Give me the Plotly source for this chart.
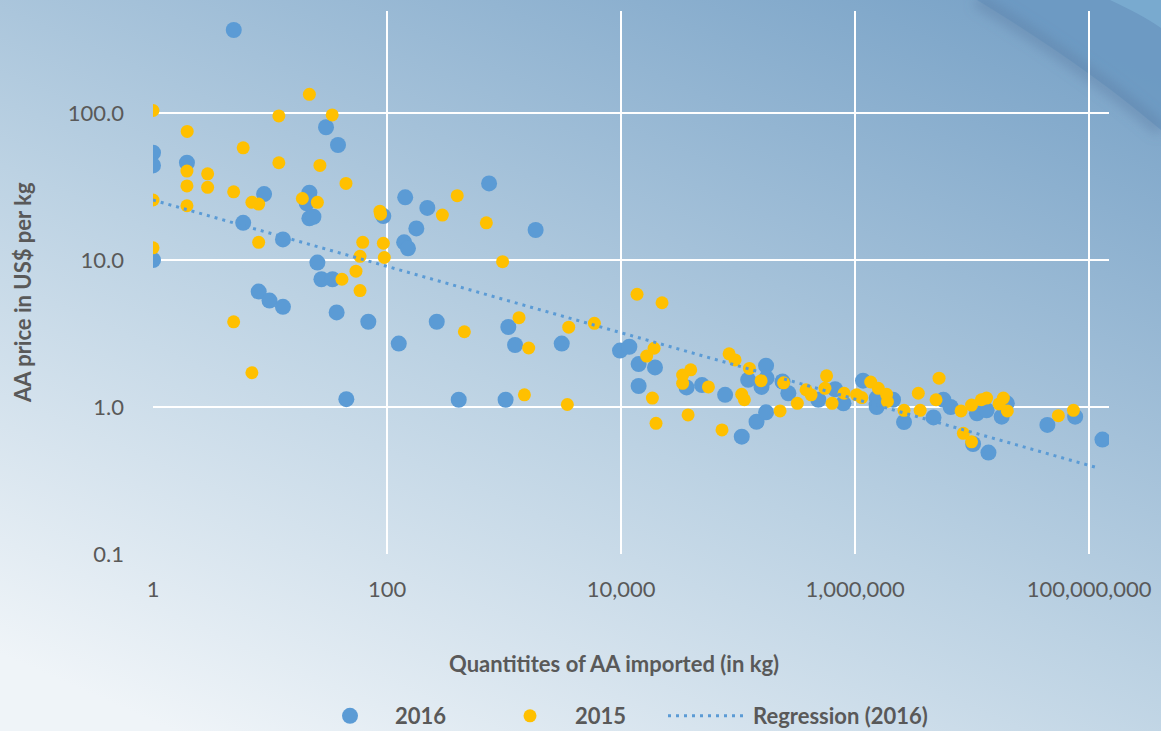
import base64
import plotly.graph_objects as go

# ---------------- data ----------------
x_2016 = [4.9, 30.1, 38.1, 1, 1, 1.95, 8.9, 21.7, 20.6, 21.7, 23.5, 5.9, 12.9,
          143, 221, 93, 178, 140, 151, 1, 25.4, 27.5, 34.2, 8.0, 9.9, 12.9, 37.1,
          69.2, 266, 126, 44.9, 745, 1862, 1088, 1242, 3112, 410, 1031,
          9800, 11770, 14130, 19500, 14130, 36300, 49200, 77500, 107500, 122000,
          143800, 173500, 173500, 158600, 175000, 240000, 269000, 485000, 675000,
          795000, 1.17e6, 1.53e6, 1.53e6, 2.11e6, 2.62e6, 4.68e6, 5.68e6, 6.56e6,
          1.02e7, 1.38e7, 1.1e7, 1.33e7, 1.79e7, 1.98e7, 4.4e7, 7.6e7, 1.3e8]
y_2016 = [367, 80, 60.6, 53.7, 44, 45.9, 28.1, 28.7, 24.3, 19.2, 19.7, 17.9, 13.8,
          26.7, 22.6, 19.9, 16.4, 13.2, 12.0, 10.0, 9.6, 7.4, 7.4, 6.1, 5.3, 4.8, 4.4,
          3.8, 3.8, 2.7, 1.13, 33.2, 16.0, 3.5, 2.64, 2.7, 1.12, 1.12,
          2.42, 2.57, 1.96, 1.86, 1.39, 1.36, 1.41, 1.21, 0.628, 1.53,
          0.794, 0.92, 1.91, 1.37, 1.57, 1.49, 1.24, 1.12, 1.32,
          1.06, 1.51, 1.15, 1.0, 1.12, 0.79, 0.85, 1.12, 1.0,
          0.56, 0.49, 0.906, 0.95, 0.86, 1.06, 0.755, 0.86, 0.60]

x_2015 = [21.7, 1, 11.9, 34, 1.96, 5.9, 11.9, 26.7, 1.95, 2.93, 44.6, 1.95, 2.93,
          4.89, 7.0, 8.0, 18.9, 25.4, 1, 1.95, 8.0, 1, 87, 88, 297, 62, 93, 54.3,
          58.8, 94.8, 41.2, 58.8, 4.89, 7.0, 398, 706, 972, 458, 1343, 1625, 3572,
          5917, 1493, 3475, 13700, 22400, 19150, 16560, 18530, 19900, 33600, 39400,
          33600, 55800, 37400, 72900, 83800, 94300, 107400, 113200, 125000, 228500,
          157400, 245000, 321000, 381000, 421000, 571000, 553000, 636000, 806000,
          1.03e6, 1.14e6, 1.36e6, 1.58e6, 1.86e6, 1.89e6, 2.62e6, 3.47e6, 3.6e6,
          4.92e6, 5.22e6, 8.05e6, 8.42e6, 9.9e6, 9.9e6, 1.2e7, 1.33e7, 1.85e7,
          1.7e7, 2.0e7, 5.46e7, 7.35e7]
y_2015 = [134, 104, 95.5, 97, 75, 58, 45.9, 44, 40.3, 38.6, 33.2, 31.9, 31.2,
          29.1, 24.7, 24.0, 26.2, 24.7, 25.6, 23.4, 13.2, 12.1, 21.5, 20.5, 20.2, 13.2,
          13.0, 8.4, 10.6, 10.4, 7.4, 6.2, 3.8, 1.71, 27.4, 17.9, 9.75, 3.25, 4.05,
          2.52, 3.49, 3.71, 1.21, 1.04, 5.85, 5.12, 2.51, 2.22, 1.15, 0.774, 1.65,
          1.79, 1.45, 1.37, 0.883, 0.698, 2.3, 2.09, 1.22, 1.12, 1.83, 0.94,
          1.51, 1.46, 1.06, 1.31, 1.21, 1.63, 1.34, 1.06, 1.24,
          1.21, 1.16, 1.48, 1.34, 1.22, 1.09, 0.95, 1.24, 0.95,
          1.12, 1.57, 0.94, 0.662, 0.58, 1.03, 1.12, 1.15, 1.15,
          1.05, 0.94, 0.873, 0.95]

reg_x = [1, 1.19e8]
reg_y = [25.6, 0.385]

x_tickvals = [1, 100, 1e4, 1e6, 1e8]
x_ticktext = ["1", "100", "10,000", "1,000,000", "100,000,000"]
y_tickvals = [0.1, 1, 10, 100]
y_ticktext = ["0.1", "1.0", "10.0", "100.0"]

# ---------------- styling ----------------
W, H = 1161, 731
ML, MR, MT, MB = 153, 52, 11, 177
PW, PH = W - ML - MR, H - MT - MB
FONT = "Lato, 'Open Sans', sans-serif"
GREY = "#595959"
BLUE = "#5b9bd5"
GOLD = "#ffc000"

svg = f'''<svg xmlns="http://www.w3.org/2000/svg" width="{W}" height="{H}" viewBox="0 0 {W} {H}" preserveAspectRatio="none">
<defs>
<linearGradient id="g" x1="0.15" y1="1" x2="0.85" y2="0">
<stop offset="0" stop-color="#eff4f8"/>
<stop offset="0.45" stop-color="#bcd2e3"/>
<stop offset="1" stop-color="#7ba4c8"/>
</linearGradient>
<filter id="b" x="-20%" y="-20%" width="140%" height="140%"><feGaussianBlur stdDeviation="6"/></filter>
</defs>
<rect width="{W}" height="{H}" fill="url(#g)"/>
<path d="M977,0 C1040,38 1105,82 1161,130 L1161,0 Z" fill="#6b99c2" fill-opacity="0.85"/>
<path d="M977,0 C1040,38 1105,82 1161,130" fill="none" stroke="#5d7fa3" stroke-width="14" stroke-opacity="0.45" filter="url(#b)"/>
<path d="M1110,0 C1130,9 1148,19 1161,28 L1161,0 Z" fill="#79aacf"/>
</svg>'''
bg_src = "data:image/svg+xml;base64," + base64.b64encode(svg.encode()).decode()

fig = go.Figure()
fig.add_trace(go.Scatter(x=x_2016, y=y_2016, mode="markers", name="2016", legend="legend",
                         marker=dict(color=BLUE, size=16, line=dict(width=0))))
fig.add_trace(go.Scatter(x=x_2015, y=y_2015, mode="markers", name="2015", legend="legend2",
                         marker=dict(color=GOLD, size=13, line=dict(width=0))))
fig.add_trace(go.Scatter(x=reg_x, y=reg_y, mode="lines", name="Regression (2016)",
                         legend="legend3",
                         line=dict(color=BLUE, width=3, dash="3px,5px")))

legend_y = (PH - (716 - MT)) / PH


def leg(px):
    return dict(orientation="h", x=(px - ML) / PW, xanchor="left",
                y=legend_y, yanchor="middle", bgcolor="rgba(0,0,0,0)", itemwidth=80,
                font=dict(family=FONT, size=22, color=GREY, weight="bold"))


fig.update_layout(
    width=W, height=H,
    margin=dict(l=ML, r=MR, t=MT, b=MB, autoexpand=False),
    paper_bgcolor="#c0d4e4",
    plot_bgcolor="rgba(0,0,0,0)",
    font=dict(family=FONT, color=GREY, size=22),
    showlegend=True,
    legend=leg(305), legend2=leg(485), legend3=leg(663),
    images=[dict(source=bg_src, xref="paper", yref="paper",
                 x=-ML / PW, y=1 + MT / PH, sizex=W / PW, sizey=H / PH,
                 xanchor="left", yanchor="top", sizing="stretch", layer="below")],
    annotations=[
        dict(text="<b>Quantitites of AA imported (in kg)</b>", xref="paper", yref="paper",
             x=(614 - ML) / PW, y=(PH - (663 - MT)) / PH, xanchor="center", yanchor="middle",
             showarrow=False, font=dict(family=FONT, size=22, color=GREY)),
        dict(text="<b>AA price in US$ per kg</b>", xref="paper", yref="paper",
             x=(22 - ML) / PW, y=(PH - (293 - MT)) / PH, xanchor="center", yanchor="middle",
             textangle=-90, showarrow=False, font=dict(family=FONT, size=22, color=GREY)),
    ],
)
fig.update_xaxes(type="log", range=[0, 8.17], tickvals=x_tickvals, ticktext=x_ticktext,
                 showgrid=True, gridcolor="white", gridwidth=2, zeroline=False,
                 showline=False, ticks="", ticklabelstandoff=20,
                 tickfont=dict(family=FONT, size=22, color=GREY))
fig.update_yaxes(type="log", range=[-1, 2.694], tickvals=y_tickvals, ticktext=y_ticktext,
                 showgrid=True, gridcolor="white", gridwidth=2, zeroline=False,
                 showline=False, ticks="", ticklabelstandoff=28,
                 tickfont=dict(family=FONT, size=22, color=GREY))

fig.write_html("out.html", config={"displayModeBar": False},
               post_script="document.body.style.margin='0';")
